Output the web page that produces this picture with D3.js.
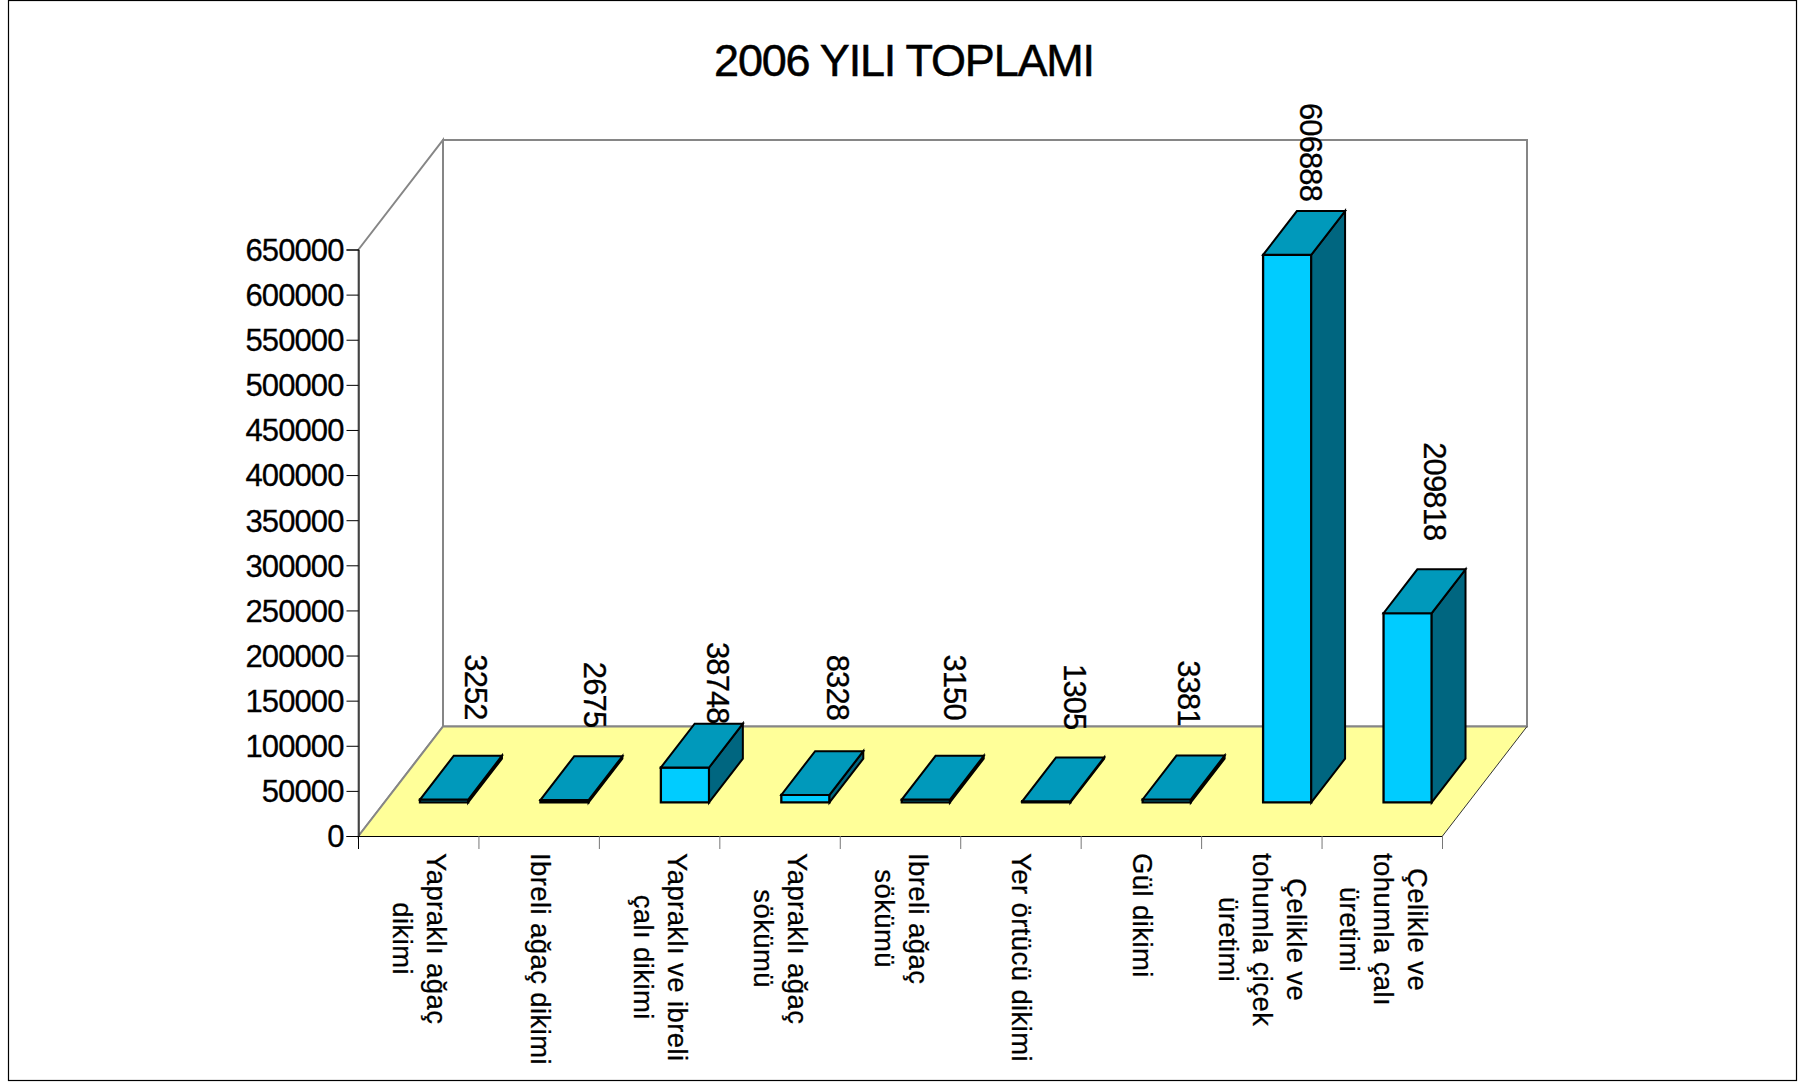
<!DOCTYPE html>
<html>
<head>
<meta charset="utf-8">
<style>
  html, body { margin: 0; padding: 0; background: #fff; }
  svg { display: block; font-family: "Liberation Sans", Arial, sans-serif; }
</style>
<script src="https://cdn.jsdelivr.net/npm/d3@7"></script>
</head>
<body>
<script>
const title = '2006 YILI TOPLAMI'
const categories = [
  ['Yapraklı ağaç', 'dikimi'],
  ['Ibreli ağaç dikimi'],
  ['Yapraklı ve ibreli', 'çalı dikimi'],
  ['Yapraklı ağaç', 'sökümü'],
  ['Ibreli ağaç', 'sökümü'],
  ['Yer örtücü dikimi'],
  ['Gül dikimi'],
  ['Çelikle ve', 'tohumla çiçek', 'üretimi'],
  ['Çelikle ve', 'tohumla çalı', 'üretimi']
]
const values = [3252, 2675, 38748, 8328, 3150, 1305, 3381, 606888, 209818]
const yTicks = d3.range(0, 650001, 50000)
// the original's data labels do not sit at one fixed place above the bars
const labelGap = [36, 29, 0, 31, 36, 28, 30, 10, 29]
const labelShift = [3.5, 2, 4.5, 4, 1, 0, -6, -4, -1]

const width = 1798
const height = 1082
const left = 358.5
const right = 1442.5
const bottom = 836
const top_ = 249.5
const depthX = 84.5
const depthY = 109.5
const barDepth = 0.4
const barShare = 0.4

const x = d3.scaleBand().domain(d3.range(categories.length)).range([left, right])
const y = d3.scaleLinear().domain([0, 650000]).range([bottom, top_])

const svg = d3.select('body').append('svg')
  .attr('width', width)
  .attr('height', height)

svg.append('rect')
  .attr('x', 8.5).attr('y', 0.5)
  .attr('width', width - 10).attr('height', 1080)
  .attr('fill', '#fff')
  .attr('stroke', '#000')
  .attr('stroke-width', 1.2)

svg.append('text')
  .attr('x', 904)
  .attr('y', 76)
  .attr('text-anchor', 'middle')
  .attr('font-size', 45)
  .attr('letter-spacing', -1.2)
  .attr('stroke', '#000')
  .attr('stroke-width', 0.5)
  .text(title)

const line = d3.line()
const poly = (g, pts, fill, stroke, sw) => g.append('path')
  .attr('d', line(pts) + 'Z')
  .attr('fill', fill)
  .attr('stroke', stroke)
  .attr('stroke-width', sw)
  .attr('stroke-linejoin', 'miter')

// walls and floor
const grey = '#868686'
const walls = svg.append('g')
poly(walls, [[left, top_], [left + depthX, top_ - depthY], [left + depthX, bottom - depthY], [left, bottom]], '#fff', grey, 2)
poly(walls, [[left + depthX, top_ - depthY], [right + depthX, top_ - depthY], [right + depthX, bottom - depthY], [left + depthX, bottom - depthY]], '#fff', grey, 2)
poly(walls, [[left, bottom], [left + depthX, bottom - depthY], [right + depthX, bottom - depthY], [right, bottom]], '#FFFF99', 'none', 0)
walls.append('path')
  .attr('d', line([[left, bottom], [left + depthX, bottom - depthY], [right + depthX, bottom - depthY]]))
  .attr('fill', 'none').attr('stroke', grey).attr('stroke-width', 2)
walls.append('path')
  .attr('d', line([[right, bottom], [right + depthX, bottom - depthY]]))
  .attr('fill', 'none').attr('stroke', '#333').attr('stroke-width', 1)

// y axis
const axisY = svg.append('g')
  .attr('transform', `translate(${left},0)`)
  .call(d3.axisLeft(y).tickValues(yTicks).tickFormat(d3.format('d')).tickSize(12).tickPadding(3))
axisY.selectAll('path,line').attr('stroke', '#000')
axisY.selectAll('text')
  .attr('font-size', 31)
  .attr('letter-spacing', -0.9)
  .attr('fill', '#000')
  .attr('stroke', '#000')
  .attr('stroke-width', 0.3)
  .attr('y', 1)
  .attr('font-family', '"Liberation Sans", Arial, sans-serif')

// x axis
svg.append('line')
  .attr('x1', left).attr('x2', right)
  .attr('y1', bottom + 0.5).attr('y2', bottom + 0.5)
  .attr('stroke', '#000')
svg.append('g').selectAll('line')
  .data(d3.range(categories.length + 1))
  .join('line')
  .attr('x1', i => left + i * x.step())
  .attr('x2', i => left + i * x.step())
  .attr('y1', bottom)
  .attr('y2', bottom + 13)
  .attr('stroke', i => i === 0 ? '#000' : '#777')

// bars
const bw = x.bandwidth() * barShare
const dx = depthX * barDepth
const dy = depthY * barDepth
const offX = (depthX - dx) / 2
const offY = (depthY - dy) / 2 + 0.7

const bars = svg.append('g').selectAll('g')
  .data(values)
  .join('g')

bars.each(function (v, i) {
  const g = d3.select(this)
  const x0 = x(i) + (x.bandwidth() - bw) / 2 + offX
  const x1 = x0 + bw
  const y0 = y(0) - offY
  const y1 = y(v) - offY
  poly(g, [[x0, y0], [x1, y0], [x1, y1], [x0, y1]], '#00CCFF', '#000', 2.3)
  poly(g, [[x1, y0], [x1 + dx, y0 - dy], [x1 + dx, y1 - dy], [x1, y1]], '#006680', '#000', 2)
  poly(g, [[x0, y1], [x1, y1], [x1 + dx, y1 - dy], [x0 + dx, y1 - dy]], '#0099BB', '#000', 2)
  g.append('text')
    .attr('transform', `translate(${x1 + 4 + labelShift[i]},${y1 - dy - labelGap[i]}) rotate(90)`)
    .attr('text-anchor', 'end')
    .attr('dy', '0.35em')
    .attr('font-size', 31)
    .attr('letter-spacing', -0.9)
    .attr('stroke', '#000')
    .attr('stroke-width', 0.3)
    .text(v)
})

// category labels, turned a quarter clockwise, first line on the right
const lineStep = 34
const labels = svg.append('g').selectAll('g')
  .data(categories)
  .join('g')

labels.each(function (lines, i) {
  const cx = x(i) + x.bandwidth() / 2
  const g = d3.select(this)
  const n = lines.length
  const texts = lines.map(s => g.append('text')
    .attr('font-size', 27.5)
    .attr('letter-spacing', 0.4)
    .attr('stroke', '#000')
    .attr('stroke-width', 0.25)
    .attr('text-anchor', 'middle')
    .attr('dy', '0.35em')
    .text(s))
  const len = d3.max(texts, t => t.node().getComputedTextLength())
  const cy = 853 + len / 2
  texts.forEach((t, k) => {
    t.attr('transform', `translate(${cx + ((n - 1) / 2 - k) * lineStep + 1},${cy}) rotate(90)`)
  })
})
</script>
</body>
</html>
